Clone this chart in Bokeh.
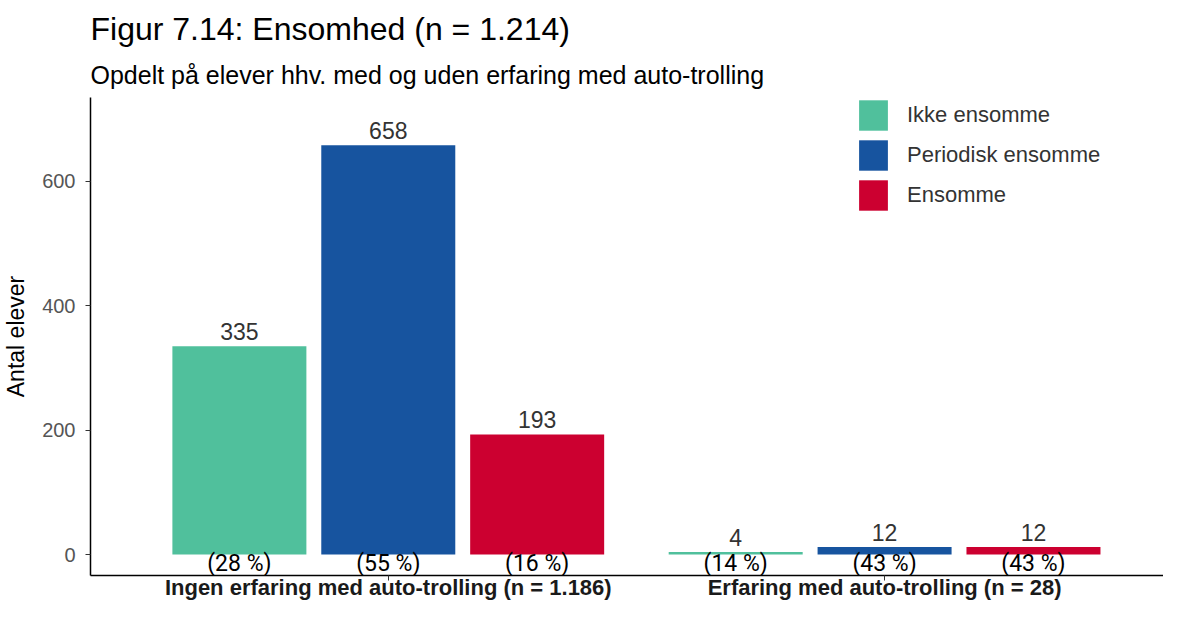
from bokeh.plotting import figure
from bokeh.models import (ColumnDataSource, FixedTicker, Legend, LegendItem,
                          Range1d, Title, LabelSet)
from bokeh.core.properties import value
from bokeh.embed import file_html
from bokeh.resources import INLINE

categories = ["Ingen erfaring med auto-trolling (n = 1.186)",
              "Erfaring med auto-trolling (n = 28)"]
series = ["Ikke ensomme", "Periodisk ensomme", "Ensomme"]
colors = ["#50C09C", "#17549F", "#CC0030"]
counts = {
    "Ikke ensomme": [335, 4],
    "Periodisk ensomme": [658, 12],
    "Ensomme": [193, 12],
}
percents = {
    "Ikke ensomme": ["(28 %)", "(14 %)"],
    "Periodisk ensomme": ["(55 %)", "(43 %)"],
    "Ensomme": ["(16 %)", "(43 %)"],
}
y_ticks = [0, 200, 400, 600]

FONT = "Liberation Sans"

p = figure(width=1163, height=602, output_backend="svg", toolbar_location=None,
           x_range=Range1d(0.4, 2.562), y_range=Range1d(-33.7, 734.8),
           min_border_left=80, min_border_right=0, min_border_bottom=20,
           min_border_top=97)
p.outline_line_color = None
p.xgrid.visible = False
p.ygrid.visible = False
p.background_fill_color = "white"

offsets = [-0.3, 0.0, 0.3]
items = []
for s, c, off in zip(series, colors, offsets):
    xs = [i + 1 + off for i in range(len(categories))]
    src = ColumnDataSource(dict(x=xs, top=counts[s],
                                lab=[str(v) for v in counts[s]],
                                pct=percents[s],
                                py=[0] * len(xs)))
    r = p.vbar(x="x", top="top", width=0.27, bottom=0, source=src,
               fill_color=c, line_color=None)
    items.append(LegendItem(label=s, renderers=[r]))
    p.text(x="x", y="top", text="lab", source=src, text_align="center",
           text_baseline="bottom", y_offset=-6, text_font=value(FONT),
           text_font_size="23px", text_color="#333333")
    p.add_layout(LabelSet(x="x", y="py", text="pct", source=src,
                          text_align="center", text_baseline="middle",
                          y_offset=-9, text_font=value("Roboto"),
                          text_font_size="23px", text_color="black"))

legend = Legend(items=items, glyph_width=36,
                glyph_height=38, spacing=2, label_text_font=FONT,
                label_text_font_size="22px", label_text_color="#333333",
                background_fill_alpha=0, border_line_color=None,
                margin=0, padding=0, label_standoff=16)
legend.location = (765, 361)
p.add_layout(legend)

# axes
p.xaxis.ticker = FixedTicker(ticks=[1, 2])
p.xaxis.major_label_overrides = {1: categories[0], 2: categories[1]}
p.xaxis.major_label_text_font = FONT
p.xaxis.major_label_text_font_style = "bold"
p.xaxis.major_label_text_font_size = "22px"
p.xaxis.major_label_text_color = "#1a1a1a"
p.xaxis.axis_line_color = "black"
p.xaxis.axis_line_width = 1.5
p.xaxis.major_tick_line_color = "#333333"
p.xaxis.major_tick_in = 0
p.xaxis.major_tick_out = 5
p.xaxis.minor_tick_line_color = None
p.xaxis.major_label_standoff = -6

p.yaxis.ticker = FixedTicker(ticks=y_ticks)
p.yaxis.axis_label = "Antal elever"
p.yaxis.axis_label_text_font = FONT
p.yaxis.axis_label_text_font_style = "normal"
p.yaxis.axis_label_text_font_size = "23px"
p.yaxis.axis_label_text_color = "black"
p.yaxis.axis_label_standoff = 10
p.yaxis.major_label_text_font = FONT
p.yaxis.major_label_text_font_size = "20px"
p.yaxis.major_label_text_color = "#555555"
p.yaxis.axis_line_color = "black"
p.yaxis.axis_line_width = 1.5
p.yaxis.major_tick_line_color = "#333333"
p.yaxis.major_tick_in = 0
p.yaxis.major_tick_out = 5
p.yaxis.minor_tick_line_color = None
p.yaxis.major_label_standoff = 10

sub = Title(text="Opdelt på elever hhv. med og uden erfaring med auto-trolling",
            text_font=FONT, text_font_size="25px", text_font_style="normal",
            text_color="black", align="left", offset=0, standoff=18)
p.add_layout(sub, "above")
main = Title(text="Figur 7.14: Ensomhed (n = 1.214)", text_font=FONT,
             text_font_size="32px", text_font_style="normal",
             text_color="black", align="left", offset=0, standoff=6)
p.add_layout(main, "above")

open("out.html", "w").write(file_html(p, INLINE))
